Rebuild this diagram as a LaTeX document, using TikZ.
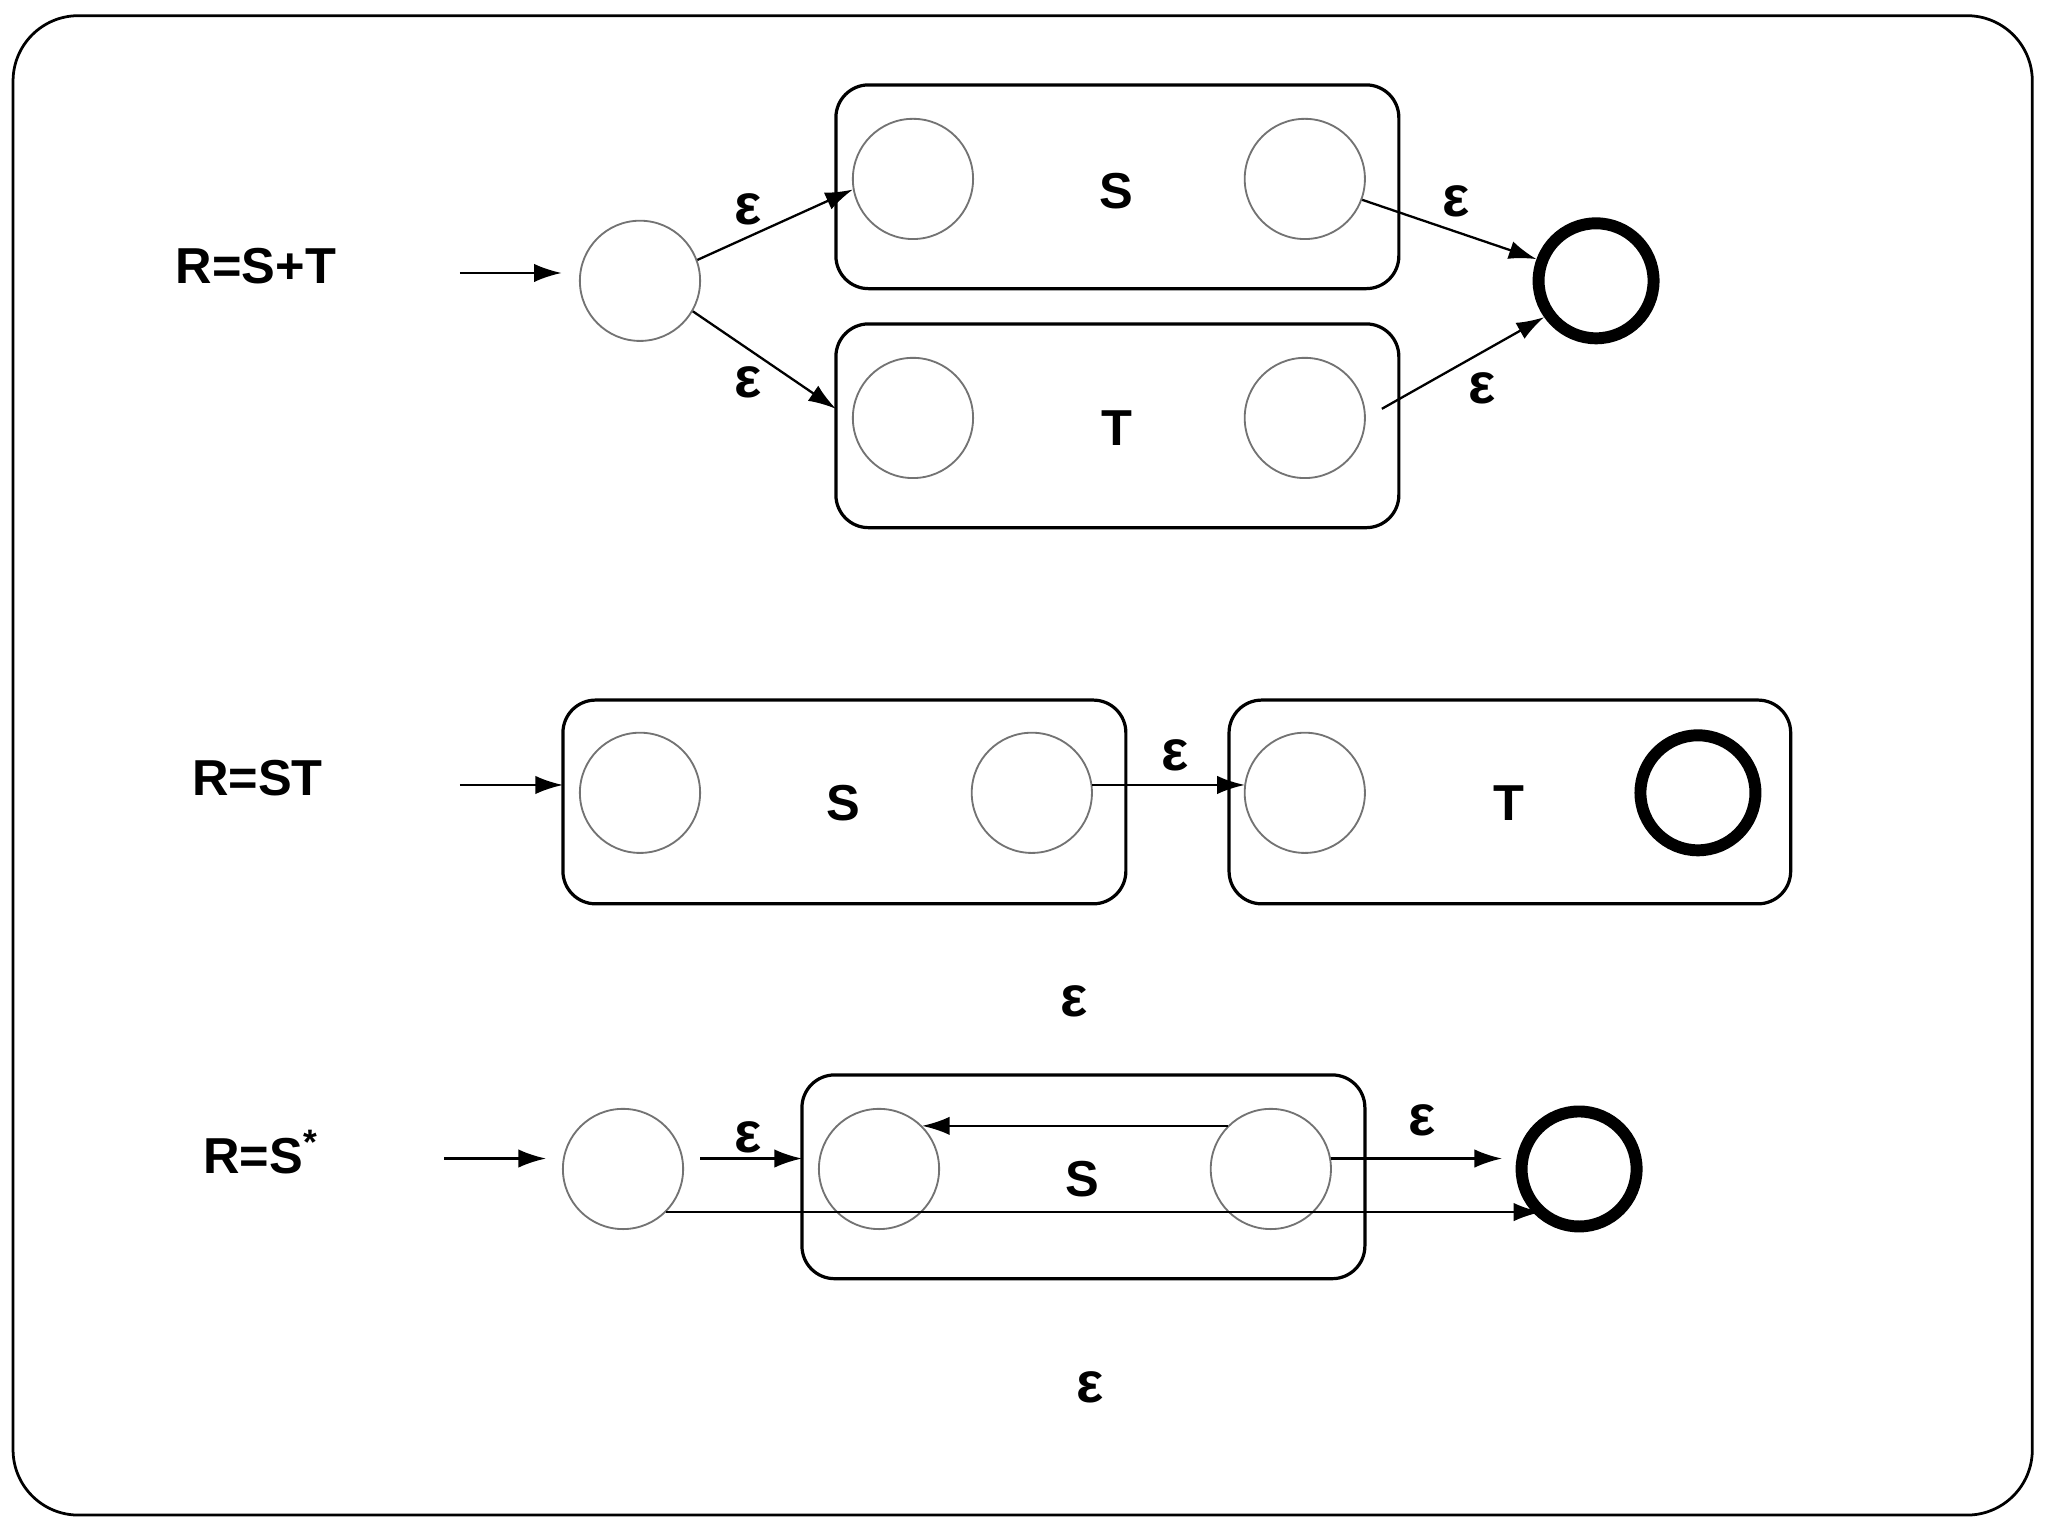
\documentclass[tikz,border=0pt]{standalone}
\usepackage{fontspec}
\setmainfont{Liberation Sans}
\usetikzlibrary{arrows.meta}
\begin{document}
\begin{tikzpicture}[x=0.01cm,y=-0.01cm,
  st/.style={circle,draw=black!55,line width=0.4pt,minimum size=0.92cm,inner sep=0pt},
  fin/.style={circle,draw=black,line width=2.6pt,minimum size=0.88cm,inner sep=0pt},
  box/.style={draw,rounded corners=0.25cm,line width=0.7pt},
  lbl/.style={font=\bfseries\fontsize{11}{13}\selectfont},
  eps/.style={font=\bfseries\fontsize{12.5}{15}\selectfont},
  ar/.style={-{Latex[length=6pt,width=4pt]},line width=0.5pt}]
\useasboundingbox (0,0) rectangle (1568,1176);
\draw[rounded corners=0.5cm,line width=0.6pt] (10,12) rectangle (1556,1160);
% Row 1
\node[lbl] (l1) at (196,204) {R=S+T};
\coordinate (i1) at (352,209);
\node[st] (a0) at (490,215) {};
\draw[box] (640,65) rectangle (1071,221);
\draw[box] (640,248) rectangle (1071,404);
\node[st] (s1) at (699,137) {};
\node[st] (s2) at (999,137) {};
\node[st] (t1) at (699,320) {};
\node[st] (t2) at (999,320) {};
\node[lbl] (ls) at (855,146) {S};
\node[lbl] (lt) at (855,328) {T};
\node[fin] (f1) at (1222,215) {};
\coordinate (c1) at (430,209);
\draw[ar] (i1) -- (c1);
\draw[ar] (a0.20) -- (s1.190);
\draw[ar] (a0.-30) -- (640,313);
\draw[ar] (s2.-20) -- (f1.160);
\draw[ar] (1058,313) -- (f1.-145);
\node[eps] (e1) at (573,160) {ε};
\node[eps] (e2) at (573,293) {ε};
\node[eps] (e3) at (1115,154) {ε};
\node[eps] (e4) at (1135,297) {ε};
% Row 2
\node[lbl] (l2) at (197,596) {R=ST};
\coordinate (i2) at (352,601);
\draw[box] (431,536) rectangle (862,692);
\draw[box] (941,536) rectangle (1371,692);
\node[st] (u1) at (490,607) {};
\node[st] (u2) at (790,607) {};
\node[st] (v1) at (999,607) {};
\node[fin] (f2) at (1300,607) {};
\node[lbl] at (646,615) {S};
\node[lbl] at (1155,615) {T};
\draw[ar] (i2) -- (431,601);
\draw[ar] (836,601) -- (953,601);
\node[eps] at (900,578) {ε};
\node[eps] at (822,767) {ε};
% Row 3
\node[lbl] (l3) at (200,882) {R=S\textsuperscript{*}};
\coordinate (i3) at (340,887);
\node[st] (b0) at (477,895) {};
\draw[box] (614,823) rectangle (1045,979);
\node[st] (w1) at (673,895) {};
\node[st] (w2) at (973,895) {};
\node[lbl] at (829,903) {S};
\node[fin] (f3) at (1209,895) {};
\draw[ar] (i3) -- (418,887);
\draw[ar] (536,887) -- (614,887);
\draw[ar] (940,862) -- (706,862);
\draw[ar] (1019,887) -- (1150,887);
\draw[ar] (510,928) -- (1180,928);
\node[eps] at (573,871) {ε};
\node[eps] at (1089,858) {ε};
\node[eps] at (835,1062) {ε};
\end{tikzpicture}
\end{document}
